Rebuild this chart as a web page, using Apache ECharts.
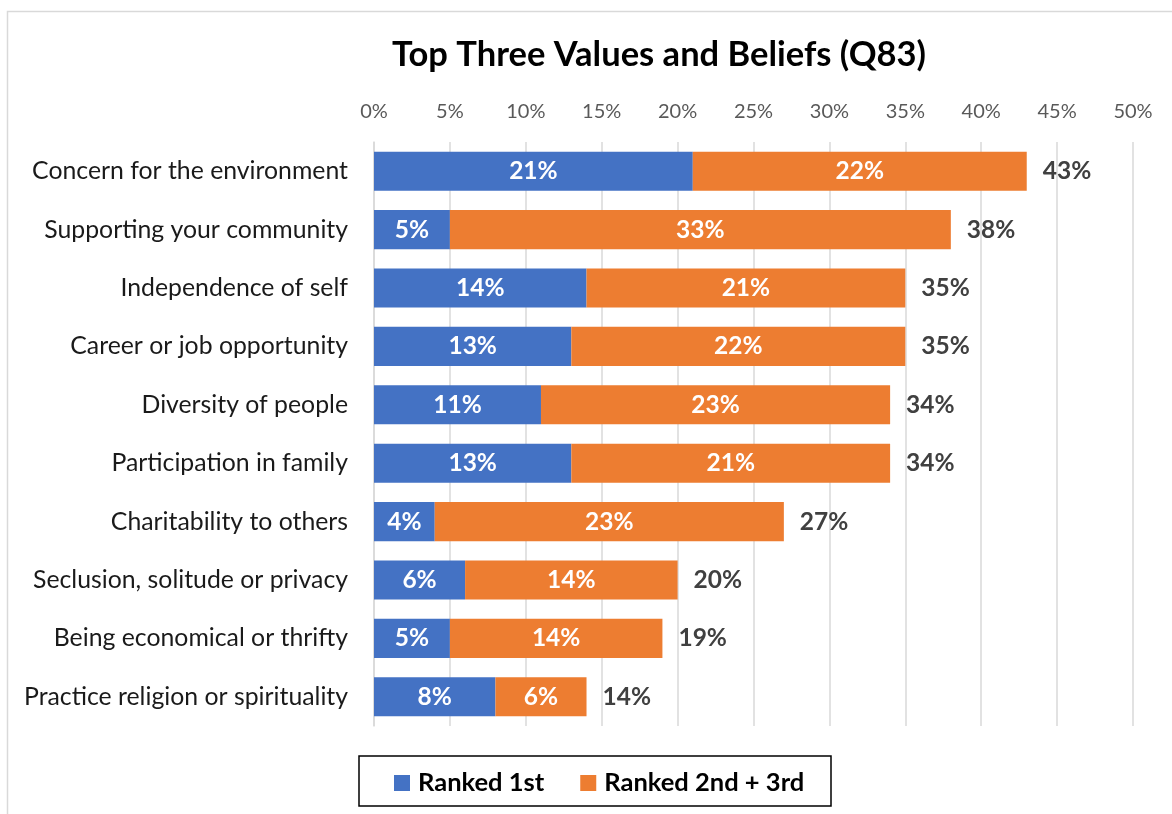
<!DOCTYPE html>
<html>
<head>
<meta charset="utf-8">
<script src="https://cdn.jsdelivr.net/npm/echarts@6/dist/echarts.min.js"></script>
<style>
html,body{margin:0;padding:0;background:#fff;}
#chart{width:1172px;height:814px;}
</style>
</head>
<body>
<div id="chart"></div>
<script>
const categories = [
  "Concern for the environment",
  "Supporting your community",
  "Independence of self",
  "Career or job opportunity",
  "Diversity of people",
  "Participation in family",
  "Charitability to others",
  "Seclusion, solitude or privacy",
  "Being economical or thrifty",
  "Practice religion or spirituality"
];
const ranked1st = [21, 5, 14, 13, 11, 13, 4, 6, 5, 8];
const ranked2nd3rd = [22, 33, 21, 22, 23, 21, 23, 14, 14, 6];
const totals = [43, 38, 35, 35, 34, 34, 27, 20, 19, 14];
const tickLabels = ["0%", "5%", "10%", "15%", "20%", "25%", "30%", "35%", "40%", "45%", "50%"];

const FONT = "Lato, 'Open Sans', sans-serif";
const chart = echarts.init(document.getElementById('chart'), null, {renderer: 'canvas'});
chart.setOption({
  animation: false,
  backgroundColor: '#fff',
  textStyle: {fontFamily: FONT},
  title: {
    text: 'Top Three Values and Beliefs (Q83)',
    left: 654, textAlign: 'center', top: 32,
    textStyle: {fontFamily: FONT, fontSize: 34.5, fontWeight: 'bold', color: '#000'}
  },
  graphic: [
    {type: 'rect', shape: {x: 7.5, y: 11.5, width: 1200, height: 900},
     style: {fill: 'none', stroke: '#d9d9d9', lineWidth: 1.5}, z: -10},
    {type: 'rect', shape: {x: 359, y: 756, width: 472, height: 50},
     style: {fill: 'none', stroke: '#000', lineWidth: 1.5}, z: 10}
  ],
  legend: {
    left: 394, top: 770, padding: 0,
    itemWidth: 16, itemHeight: 16, itemGap: 36,
    icon: 'rect',
    data: ['Ranked 1st', 'Ranked 2nd + 3rd'],
    textStyle: {fontFamily: FONT, fontSize: 25.5, fontWeight: 'bold', color: '#000', padding: [0, 0, 0, 3]}
  },
  grid: {left: 374, right: 39, top: 142, bottom: 88},
  xAxis: {
    type: 'value', position: 'top', min: 0, max: 50, interval: 5,
    axisLine: {show: false}, axisTick: {show: false},
    splitLine: {show: true, lineStyle: {color: '#d9d9d9', width: 1.5}},
    axisLabel: {
      margin: 20, fontFamily: FONT, fontSize: 20, color: '#595959',
      formatter: function (v) { return tickLabels[Math.round(v / 5)]; }
    }
  },
  yAxis: {
    type: 'category', inverse: true, data: categories,
    axisLine: {show: true, lineStyle: {color: '#d9d9d9', width: 1.5}},
    axisTick: {show: false},
    axisLabel: {margin: 26, fontFamily: FONT, fontSize: 24.8, color: '#1a1a1a'}
  },
  series: [
    {
      name: 'Ranked 1st', type: 'bar', stack: 'a', data: ranked1st,
      barCategoryGap: '33%',
      itemStyle: {color: '#4472C4'},
      label: {show: true, position: 'inside', formatter: '{c}%', fontFamily: FONT, fontSize: 24.5, fontWeight: 'bold', color: '#fff'}
    },
    {
      name: 'Ranked 2nd + 3rd', type: 'bar', stack: 'a', data: ranked2nd3rd,
      itemStyle: {color: '#ED7D31'},
      label: {show: true, position: 'inside', formatter: '{c}%', fontFamily: FONT, fontSize: 24.5, fontWeight: 'bold', color: '#fff'}
    },
    {
      name: 'Total', type: 'bar', data: totals, barGap: '-100%',
      itemStyle: {color: 'rgba(0,0,0,0)'}, z: 1, silent: true,
      label: {show: true, position: 'right', distance: 16, formatter: '{c}%', fontFamily: FONT, fontSize: 24.5, fontWeight: 'bold', color: '#404040'}
    }
  ]
});
</script>
</body>
</html>
